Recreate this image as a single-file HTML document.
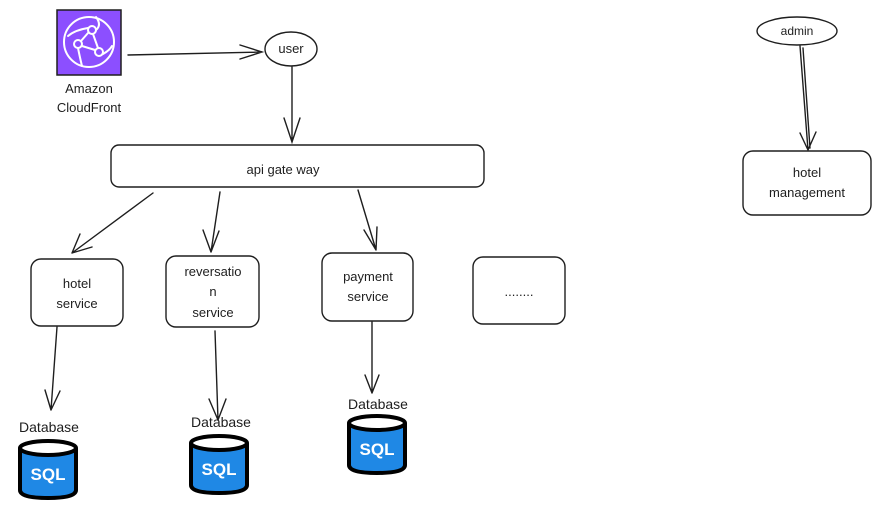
<!DOCTYPE html>
<html><head><meta charset="utf-8"><style>
html,body{margin:0;padding:0;background:#fff;}
svg{display:block;}
text{font-family:"Liberation Sans",sans-serif;font-size:13px;fill:#1e1e1e;text-anchor:middle;}
</style></head><body>
<svg width="882" height="507" viewBox="0 0 882 507" xmlns="http://www.w3.org/2000/svg">
<defs>
<g id="db">
<path d="M0,8 L0,50 Q0,58 28,58 Q56,58 56,50 L56,8" fill="#1f88e5" stroke="#000" stroke-width="4"/>
<ellipse cx="28" cy="8" rx="28" ry="7" fill="#fff" stroke="#000" stroke-width="4"/>
<text x="28" y="40" style="font-size:17px;fill:#fff;font-weight:bold;">SQL</text>
</g>
</defs>
<g fill="none" stroke="#1e1e1e" stroke-width="1.4" stroke-linecap="round">
<!-- cloudfront -->
<rect x="57" y="10" width="64" height="65" fill="#8c4fff" stroke="#1e1e1e" stroke-width="1.5"/>
<g stroke="#fff" stroke-width="2">
<circle cx="89" cy="42" r="25"/>
<circle cx="92" cy="30" r="4"/><circle cx="78" cy="44" r="4"/><circle cx="99" cy="52" r="4"/>
<path d="M88,33 L81,41 M82,46 L95,50 M93,34 L98,48 M68,36 Q75,30 88,28 M78,48 Q80,58 82,66 M103,54 Q110,50 112,46 M96,17 Q102,25 96,30"/>
</g>
<!-- cloudfront -> user -->
<path d="M128,55 L262,52 M240,45 L262,52 L240,59"/>
<ellipse cx="291" cy="49" rx="26" ry="17"/>
<path d="M292,67 L292,142 M284,118 L292,142 L300,118"/>
<!-- api gateway -->
<rect x="111" y="145" width="373" height="42" rx="8"/>
<!-- gateway to services -->
<path d="M153,193 L72,253 M80,234 L72,253 M92,247 L72,253"/>
<path d="M220,192 L211,252 M203,230 L211,252 M219,231 L211,252"/>
<path d="M358,190 L376,250 M364,230 L376,250 M377,227 L376,250"/>
<rect x="31" y="259" width="92" height="67" rx="10"/>
<rect x="166" y="256" width="93" height="71" rx="10"/>
<rect x="322" y="253" width="91" height="68" rx="10"/>
<rect x="473" y="257" width="92" height="67" rx="10"/>
<!-- services to db -->
<path d="M57,327 L51,410 M45,390 L51,410 M60,391 L51,410"/>
<path d="M215,331 L218,420 M209,399 L218,420 M226,399 L218,420"/>
<path d="M372,322 L372,393 M365,375 L372,393 M379,375 L372,393"/>
<!-- admin -->
<ellipse cx="797" cy="31" rx="40" ry="14"/>
<path d="M800,46 L808,150 M803,48 L810,148 M800,133 L808,150 M816,132 L808,150"/>
<rect x="743" y="151" width="128" height="64" rx="10"/>
</g>
<text x="89" y="93">Amazon</text>
<text x="89" y="112">CloudFront</text>
<text x="291" y="53">user</text>
<text x="283" y="174">api gate way</text>
<text x="77" y="288">hotel</text>
<text x="77" y="308">service</text>
<text x="213" y="276">reversatio</text>
<text x="213" y="296">n</text>
<text x="213" y="317">service</text>
<text x="368" y="281">payment</text>
<text x="368" y="301">service</text>
<text x="519" y="296">........</text>
<text x="797" y="35" style="font-size:12px">admin</text>
<text x="807" y="177">hotel</text>
<text x="807" y="197">management</text>
<text x="49" y="432" style="font-size:14px">Database</text>
<text x="221" y="427" style="font-size:14px">Database</text>
<text x="378" y="409" style="font-size:14px">Database</text>
<use href="#db" x="20" y="440"/>
<use href="#db" x="191" y="435"/>
<use href="#db" x="349" y="415"/>
</svg>
</body></html>
